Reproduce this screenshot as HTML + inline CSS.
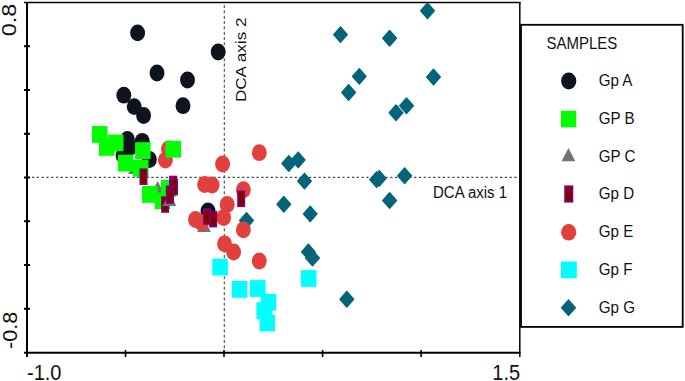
<!DOCTYPE html>
<html><head><meta charset="utf-8"><style>
html,body{margin:0;padding:0;background:#fff;}
body{width:685px;height:381px;overflow:hidden;font-family:"Liberation Sans",sans-serif;}
svg{display:block;}
</style></head><body>
<svg width="685" height="381" viewBox="0 0 685 381">
<line x1="224.3" y1="5.05" x2="224.3" y2="351" stroke="#4a4a4a" stroke-width="1.1" stroke-dasharray="3 2.317"/>
<line x1="31.95" y1="177.4" x2="518" y2="177.4" stroke="#4a4a4a" stroke-width="1.15" stroke-dasharray="2.3 2.476"/>
<ellipse cx="137.6" cy="32.9" rx="7.45" ry="8.4" fill="#0e141e"/>
<ellipse cx="218.2" cy="52" rx="7.45" ry="8.4" fill="#0e141e"/>
<ellipse cx="157" cy="73" rx="7.45" ry="8.4" fill="#0e141e"/>
<ellipse cx="187.5" cy="80" rx="7.45" ry="8.4" fill="#0e141e"/>
<ellipse cx="123.8" cy="95.2" rx="7.45" ry="8.4" fill="#0e141e"/>
<ellipse cx="183" cy="105.7" rx="7.45" ry="8.4" fill="#0e141e"/>
<ellipse cx="134.2" cy="106.6" rx="7.45" ry="8.4" fill="#0e141e"/>
<ellipse cx="143.6" cy="115.5" rx="7.45" ry="8.4" fill="#0e141e"/>
<ellipse cx="127.4" cy="139.4" rx="7.45" ry="8.4" fill="#0e141e"/>
<ellipse cx="129.5" cy="147.5" rx="7.45" ry="8.4" fill="#0e141e"/>
<ellipse cx="142.2" cy="141.3" rx="7.45" ry="8.4" fill="#0e141e"/>
<ellipse cx="123.1" cy="155.4" rx="7.45" ry="8.4" fill="#0e141e"/>
<ellipse cx="149.4" cy="159.5" rx="7.45" ry="8.4" fill="#0e141e"/>
<ellipse cx="208" cy="211" rx="7.45" ry="8.4" fill="#0e141e"/>
<polygon points="246.50,212.75 253.30,220.50 246.50,228.25 239.70,220.50" fill="#046479" stroke="#046479" stroke-width="1.4" stroke-linejoin="round"/>
<polygon points="157.6,181 164.45,194.3 150.75,194.3" fill="#727278"/>
<polygon points="135,160.7 141.85,174.0 128.15,174.0" fill="#727278"/>
<polygon points="204,218.7 210.85,232.0 197.15,232.0" fill="#727278"/>
<ellipse cx="259.3" cy="152.7" rx="7.45" ry="8.4" fill="#e2403c"/>
<ellipse cx="222.6" cy="164" rx="7.45" ry="8.4" fill="#e2403c"/>
<ellipse cx="204.6" cy="184.5" rx="7.45" ry="8.4" fill="#e2403c"/>
<ellipse cx="212.1" cy="185" rx="7.45" ry="8.4" fill="#e2403c"/>
<ellipse cx="243.4" cy="189.7" rx="7.45" ry="8.4" fill="#e2403c"/>
<ellipse cx="227.2" cy="204.5" rx="7.45" ry="8.4" fill="#e2403c"/>
<ellipse cx="223.6" cy="217.5" rx="7.45" ry="8.4" fill="#e2403c"/>
<ellipse cx="195.5" cy="219.5" rx="7.45" ry="8.4" fill="#e2403c"/>
<ellipse cx="201.5" cy="222.5" rx="7.45" ry="8.4" fill="#e2403c"/>
<ellipse cx="243.4" cy="229.8" rx="7.45" ry="8.4" fill="#e2403c"/>
<ellipse cx="224.5" cy="243.8" rx="7.45" ry="8.4" fill="#e2403c"/>
<ellipse cx="233.6" cy="252" rx="7.45" ry="8.4" fill="#e2403c"/>
<ellipse cx="259.3" cy="261" rx="7.45" ry="8.4" fill="#e2403c"/>
<ellipse cx="168.5" cy="149" rx="7.45" ry="8.4" fill="#e2403c"/>
<ellipse cx="165.4" cy="160.1" rx="7.45" ry="8.4" fill="#e2403c"/>
<rect x="92" y="126" width="15.5" height="16.8" fill="#00ff00"/>
<rect x="99" y="139" width="15.5" height="16.8" fill="#00ff00"/>
<rect x="108" y="134.5" width="15.5" height="16.8" fill="#00ff00"/>
<rect x="135.1" y="142.2" width="15.5" height="16.8" fill="#00ff00"/>
<rect x="117.8" y="154.7" width="15.5" height="16.8" fill="#00ff00"/>
<rect x="133" y="160" width="15.5" height="16.8" fill="#00ff00"/>
<rect x="142" y="186" width="15.5" height="16.8" fill="#00ff00"/>
<rect x="165.5" y="140.8" width="15.5" height="16.8" fill="#00ff00"/>
<rect x="161" y="180" width="15.5" height="16.8" fill="#00ff00"/>
<rect x="154.7" y="192.4" width="15.5" height="16.8" fill="#00ff00"/>
<rect x="161.85" y="196.95" width="6.5" height="15.100000000000001" fill="#800000" stroke="#800080" stroke-width="1.5"/>
<polygon points="169.5,192.7 176.35,206.0 162.65,206.0" fill="#727278"/>
<rect x="140.25" y="169.15" width="6.5" height="15.100000000000001" fill="#800000" stroke="#800080" stroke-width="1.5"/>
<rect x="237.95" y="191.25" width="6.5" height="15.100000000000001" fill="#800000" stroke="#800080" stroke-width="1.5"/>
<rect x="203.85" y="208.95" width="6.5" height="15.100000000000001" fill="#800000" stroke="#800080" stroke-width="1.5"/>
<rect x="209.95" y="211.55" width="6.5" height="15.100000000000001" fill="#800000" stroke="#800080" stroke-width="1.5"/>
<rect x="169.75" y="176.45" width="6.5" height="15.100000000000001" fill="#800000" stroke="#800080" stroke-width="1.5"/>
<rect x="170.75" y="179.35" width="6.5" height="15.100000000000001" fill="#800000" stroke="#800080" stroke-width="1.5"/>
<rect x="166.65" y="186.25" width="6.5" height="15.100000000000001" fill="#800000" stroke="#800080" stroke-width="1.5"/>
<rect x="166.65" y="187.85" width="6.5" height="15.100000000000001" fill="#800000" stroke="#800080" stroke-width="1.5"/>
<rect x="212.3" y="258.7" width="15.5" height="16.8" fill="#00ffff"/>
<rect x="231.9" y="281" width="15.5" height="16.8" fill="#00ffff"/>
<rect x="250" y="280.1" width="15.5" height="16.8" fill="#00ffff"/>
<rect x="260.8" y="293.9" width="15.5" height="16.8" fill="#00ffff"/>
<rect x="256.4" y="302.2" width="15.5" height="16.8" fill="#00ffff"/>
<rect x="259.5" y="314.5" width="15.5" height="16.8" fill="#00ffff"/>
<rect x="300.9" y="270.1" width="15.5" height="16.8" fill="#00ffff"/>
<polygon points="340.50,26.85 347.30,34.60 340.50,42.35 333.70,34.60" fill="#046479" stroke="#046479" stroke-width="1.4" stroke-linejoin="round"/>
<polygon points="389.60,30.45 396.40,38.20 389.60,45.95 382.80,38.20" fill="#046479" stroke="#046479" stroke-width="1.4" stroke-linejoin="round"/>
<polygon points="359.30,68.65 366.10,76.40 359.30,84.15 352.50,76.40" fill="#046479" stroke="#046479" stroke-width="1.4" stroke-linejoin="round"/>
<polygon points="348.60,84.75 355.40,92.50 348.60,100.25 341.80,92.50" fill="#046479" stroke="#046479" stroke-width="1.4" stroke-linejoin="round"/>
<polygon points="396.00,104.95 402.80,112.70 396.00,120.45 389.20,112.70" fill="#046479" stroke="#046479" stroke-width="1.4" stroke-linejoin="round"/>
<polygon points="433.50,69.25 440.30,77.00 433.50,84.75 426.70,77.00" fill="#046479" stroke="#046479" stroke-width="1.4" stroke-linejoin="round"/>
<polygon points="406.50,98.05 413.30,105.80 406.50,113.55 399.70,105.80" fill="#046479" stroke="#046479" stroke-width="1.4" stroke-linejoin="round"/>
<polygon points="288.80,155.75 295.60,163.50 288.80,171.25 282.00,163.50" fill="#046479" stroke="#046479" stroke-width="1.4" stroke-linejoin="round"/>
<polygon points="298.20,152.15 305.00,159.90 298.20,167.65 291.40,159.90" fill="#046479" stroke="#046479" stroke-width="1.4" stroke-linejoin="round"/>
<polygon points="304.50,173.35 311.30,181.10 304.50,188.85 297.70,181.10" fill="#046479" stroke="#046479" stroke-width="1.4" stroke-linejoin="round"/>
<polygon points="283.80,196.45 290.60,204.20 283.80,211.95 277.00,204.20" fill="#046479" stroke="#046479" stroke-width="1.4" stroke-linejoin="round"/>
<polygon points="310.20,206.15 317.00,213.90 310.20,221.65 303.40,213.90" fill="#046479" stroke="#046479" stroke-width="1.4" stroke-linejoin="round"/>
<polygon points="308.40,244.15 315.20,251.90 308.40,259.65 301.60,251.90" fill="#046479" stroke="#046479" stroke-width="1.4" stroke-linejoin="round"/>
<polygon points="312.50,250.25 319.30,258.00 312.50,265.75 305.70,258.00" fill="#046479" stroke="#046479" stroke-width="1.4" stroke-linejoin="round"/>
<polygon points="376.60,171.85 383.40,179.60 376.60,187.35 369.80,179.60" fill="#046479" stroke="#046479" stroke-width="1.4" stroke-linejoin="round"/>
<polygon points="379.30,170.65 386.10,178.40 379.30,186.15 372.50,178.40" fill="#046479" stroke="#046479" stroke-width="1.4" stroke-linejoin="round"/>
<polygon points="404.60,167.95 411.40,175.70 404.60,183.45 397.80,175.70" fill="#046479" stroke="#046479" stroke-width="1.4" stroke-linejoin="round"/>
<polygon points="389.60,192.75 396.40,200.50 389.60,208.25 382.80,200.50" fill="#046479" stroke="#046479" stroke-width="1.4" stroke-linejoin="round"/>
<polygon points="346.80,291.55 353.60,299.30 346.80,307.05 340.00,299.30" fill="#046479" stroke="#046479" stroke-width="1.4" stroke-linejoin="round"/>
<g stroke="#000" fill="none">
<line x1="24" y1="2.5" x2="520.5" y2="2.5" stroke-width="1.5"/>
<line x1="519.8" y1="2" x2="519.8" y2="357" stroke-width="1.5"/>
<line x1="27" y1="2" x2="27" y2="357" stroke-width="2"/>
<line x1="24" y1="352.7" x2="520.5" y2="352.7" stroke-width="1.9"/>
<line x1="24" y1="46.2" x2="30" y2="46.2" stroke-width="2"/>
<line x1="24" y1="90.0" x2="30" y2="90.0" stroke-width="2"/>
<line x1="24" y1="133.8" x2="30" y2="133.8" stroke-width="2"/>
<line x1="24" y1="177.5" x2="30" y2="177.5" stroke-width="2"/>
<line x1="24" y1="221.2" x2="30" y2="221.2" stroke-width="2"/>
<line x1="24" y1="265.0" x2="30" y2="265.0" stroke-width="2"/>
<line x1="24" y1="308.8" x2="30" y2="308.8" stroke-width="2"/>
<line x1="125.5" y1="350" x2="125.5" y2="357" stroke-width="1.6"/>
<line x1="224.0" y1="350" x2="224.0" y2="357" stroke-width="1.6"/>
<line x1="322.6" y1="350" x2="322.6" y2="357" stroke-width="1.6"/>
<line x1="421.1" y1="350" x2="421.1" y2="357" stroke-width="1.6"/>
</g>
<polygon points="427.50,2.95 434.30,10.70 427.50,18.45 420.70,10.70" fill="#046479" stroke="#046479" stroke-width="1.4" stroke-linejoin="round"/>
<rect x="521" y="24.8" width="161.7" height="302.1" fill="none" stroke="#000" stroke-width="1.8"/>
<ellipse cx="568.7" cy="81" rx="7.6" ry="8.4" fill="#0e141e"/>
<rect x="561" y="110.8" width="15.3" height="16.5" fill="#00ff00"/>
<polygon points="568.45,148 575.3,161.3 561.6,161.3" fill="#727278"/>
<rect x="565" y="186.2" width="7.5" height="15.6" fill="#800000" stroke="#800080" stroke-width="1.6"/>
<ellipse cx="568.7" cy="232.3" rx="7.6" ry="8.3" fill="#e2403c"/>
<rect x="561" y="261.5" width="15.8" height="16.8" fill="#00ffff"/>
<polygon points="568.5,299 576.3,307.7 568.5,316.4 560.7,307.7" fill="#046479"/>
<g font-family="Liberation Sans, sans-serif" fill="#111">
<text transform="translate(546.5,48.6) scale(1,1.09)" font-size="15">SAMPLES</text>
<text transform="translate(598.8,86.0) scale(1.01,1.09)" font-size="15">Gp A</text>
<text transform="translate(598.8,123.8) scale(1.01,1.09)" font-size="15">GP B</text>
<text transform="translate(598.8,161.8) scale(1.01,1.09)" font-size="15">GP C</text>
<text transform="translate(598.8,199.4) scale(1.01,1.09)" font-size="15">Gp D</text>
<text transform="translate(598.8,237.4) scale(1.01,1.09)" font-size="15">Gp E</text>
<text transform="translate(598.8,275.2) scale(1.01,1.09)" font-size="15">Gp F</text>
<text transform="translate(598.8,313.0) scale(1.01,1.09)" font-size="15">Gp G</text>
<text transform="translate(433,198.3) scale(1,1.07)" font-size="15">DCA axis 1</text>
<text transform="translate(246,102.1) rotate(-90) scale(1.14,1)" font-size="15">DCA axis 2</text>
<text transform="translate(27,379.5) scale(1,1.09)" font-size="20">-1.0</text>
<text transform="translate(492.3,379.5) scale(1,1.09)" font-size="20">1.5</text>
<text transform="translate(16.3,36.3) rotate(-90) scale(1.17,1)" font-size="20">0.8</text>
<text transform="translate(16.6,349) rotate(-90) scale(1.08,1)" font-size="20">-0.8</text>
</g>
</svg>
</body></html>
